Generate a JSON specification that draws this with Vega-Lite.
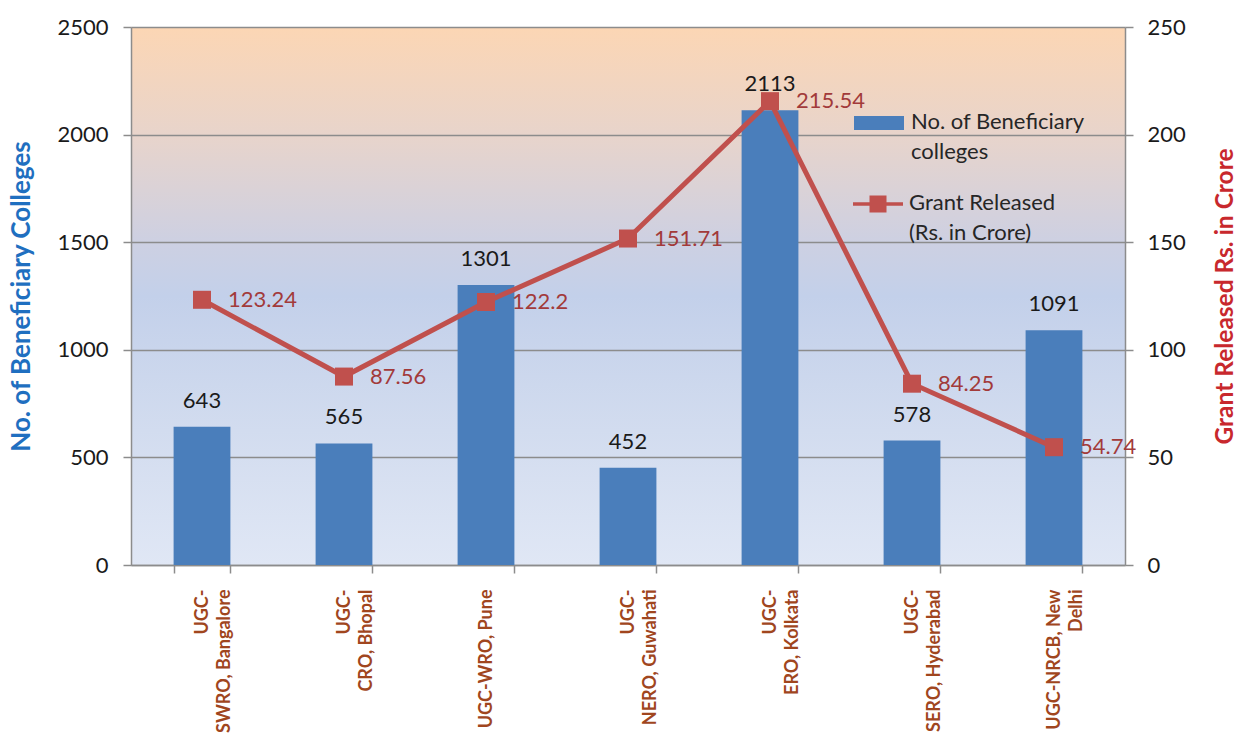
{
  "$schema": "https://vega.github.io/schema/vega-lite/v6.json",
  "width": 994,
  "height": 538,
  "autosize": "none",
  "padding": {"left": 131, "top": 27, "right": 112, "bottom": 176},
  "background": "white",
  "config": {
    "font": "Lato",
    "view": {
      "stroke": null,
      "fill": {
        "gradient": "linear", "x1": 0, "y1": 0, "x2": 0, "y2": 1,
        "stops": [
          {"offset": 0, "color": "#fcd6b4"},
          {"offset": 0.2, "color": "#e8d4cb"},
          {"offset": 0.4, "color": "#cdd0e2"},
          {"offset": 0.5, "color": "#c3d0ea"},
          {"offset": 0.75, "color": "#d2dcef"},
          {"offset": 1, "color": "#e0e7f5"}
        ]
      }
    },
    "axis": {
      "labelFont": "Lato", "labelFontSize": 22, "labelColor": "#1a1a1a",
      "domainColor": "#8c8c8c", "domainWidth": 1.5,
      "tickColor": "#8c8c8c", "tickWidth": 1.5, "tickSize": 8,
      "gridColor": "#8c8c8c", "gridWidth": 1.5
    },
    "legend": {"padding": 0}
  },
  "data": {
    "values": [
      {"region": "UGC-\nSWRO, Bangalore", "colleges": 643, "grant": 123.24},
      {"region": "UGC-\nCRO, Bhopal", "colleges": 565, "grant": 87.56},
      {"region": "UGC-WRO, Pune", "colleges": 1301, "grant": 122.2},
      {"region": "UGC-\nNERO, Guwahati", "colleges": 452, "grant": 151.71},
      {"region": "UGC-\nERO, Kolkata", "colleges": 2113, "grant": 215.54},
      {"region": "UGC-\nSERO, Hyderabad", "colleges": 578, "grant": 84.25},
      {"region": "UGC-NRCB, New\nDelhi", "colleges": 1091, "grant": 54.74}
    ]
  },
  "encoding": {
    "x": {
      "field": "region", "type": "nominal", "sort": null,
      "scale": {"paddingInner": 0.6, "paddingOuter": 0.3},
      "axis": {
        "title": null, "labelAngle": 270, "labelAlign": "right", "labelBaseline": "middle",
        "labelPadding": 16, "labelFontWeight": "bold", "labelFontSize": 18, "labelColor": "#a0461e",
        "labelLineHeight": 22,
        "labelExpr": "split(datum.label, '\\n')", "labelLimit": 300,
        "tickBand": "extent", "grid": false
      }
    }
  },
  "layer": [
    {
      "encoding": {
        "y": {
          "field": "colleges", "type": "quantitative",
          "scale": {"domain": [0, 2500], "nice": false},
          "axis": {
            "orient": "left", "values": [0, 500, 1000, 1500, 2000, 2500], "grid": true,
            "format": "d", "labelPadding": 15,
            "title": "No. of Beneficiary Colleges", "titleFontSize": 26, "titleFontWeight": "bold",
            "titleColor": "#1f6fc0", "titlePadding": 22
          }
        }
      },
      "layer": [
        {
          "mark": {"type": "bar"},
          "encoding": {
            "fill": {
              "datum": "No. of Beneficiary\ncolleges",
              "type": "nominal",
              "scale": {"range": ["#4a7ebb"]},
              "legend": {
                "title": null, "orient": "none", "legendX": 722, "legendY": 59,
                "symbolType": "M-1,0.16H1V0.72H-1Z", "symbolSize": 2500,
                "labelExpr": "split(datum.label, '\\n')", "labelFontSize": 22, "labelColor": "#262626",
                "labelLimit": 400, "labelOffset": 6, "labelBaseline": "top",
                "encode": {"labels": {"update": {"lineHeight": {"value": 30}}}}
              }
            }
          }
        },
        {
          "mark": {"type": "text", "baseline": "bottom", "dy": -14, "fontSize": 22, "color": "#1a1a1a"},
          "encoding": {"text": {"field": "colleges", "type": "quantitative", "format": "d"}}
        }
      ]
    },
    {
      "encoding": {
        "y": {
          "field": "grant", "type": "quantitative",
          "scale": {"domain": [0, 250], "nice": false},
          "axis": {
            "orient": "right", "values": [0, 50, 100, 150, 200, 250], "grid": false,
            "format": "d", "labelPadding": 14,
            "title": "Grant Released Rs. in Crore", "titleFontSize": 24.5, "titleFontWeight": "bold",
            "titleColor": "#c8282d", "titleAngle": 270, "titlePadding": 52
          }
        }
      },
      "layer": [
        {
          "mark": {"type": "line", "strokeWidth": 5},
          "encoding": {
            "stroke": {
              "datum": "Grant Released\n(Rs. in Crore)",
              "type": "nominal",
              "scale": {"range": ["#c0504d"]},
              "legend": {
                "title": null, "orient": "none", "legendX": 722, "legendY": 141,
                "symbolType": "M-1,0.37H1V0.51H-1Z M-0.34,0.10H0.34V0.78H-0.34Z", "symbolSize": 2500,
                "symbolFillColor": "#c0504d", "symbolStrokeWidth": 0,
                "labelExpr": "split(datum.label, '\\n')", "labelFontSize": 22, "labelColor": "#262626",
                "labelLimit": 400, "labelOffset": 6, "labelBaseline": "top",
                "encode": {"labels": {"update": {"lineHeight": {"value": 30}}}}
              }
            }
          }
        },
        {
          "mark": {"type": "point", "shape": "square", "size": 324, "filled": true, "color": "#c0504d", "opacity": 1},
          "encoding": {}
        },
        {
          "mark": {"type": "text", "align": "left", "baseline": "middle", "dx": 26, "fontSize": 22, "color": "#a23a3a"},
          "encoding": {"text": {"field": "grant", "type": "quantitative"}}
        }
      ]
    }
  ],
  "resolve": {"scale": {"y": "independent", "fill": "independent", "stroke": "independent"}}
}
